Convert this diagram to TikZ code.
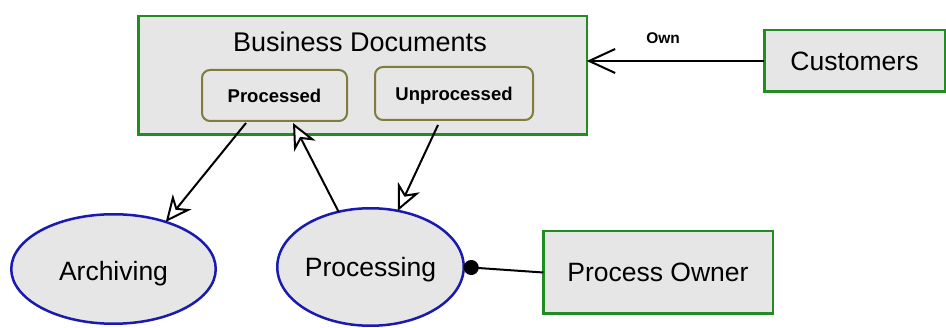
\documentclass[tikz,border=0pt]{standalone}
\usepackage{fontspec}
\setmainfont{Liberation Sans}
\usetikzlibrary{shapes.geometric,arrows.meta,calc}

\definecolor{boxfill}{RGB}{230,230,230}
\definecolor{boxgreen}{RGB}{34,140,34}
\definecolor{docolive}{RGB}{128,124,62}
\definecolor{ovalblue}{RGB}{26,26,176}

\tikzset{
  x=1pt, y=1pt,
  entity/.style={draw=boxgreen, fill=boxfill, line width=2.5pt, inner sep=0pt,
    outer sep=0pt, font=\fontsize{26.5}{30}\selectfont, text depth=0pt},
  docstate/.style={draw=docolive, fill=boxfill, line width=2pt, rounded corners=8pt,
    inner sep=0pt, outer sep=0pt, font=\bfseries\fontsize{18.5}{22}\selectfont, text depth=0pt},
  activity/.style={ellipse, draw=ovalblue, fill=boxfill, line width=2.5pt, inner sep=0pt,
    outer sep=0pt, font=\fontsize{26.5}{30}\selectfont, text depth=0pt},
  flow/.style={draw=black, line width=2pt,
    -{Stealth[open, fill=white, length=26pt, width=24pt, inset=8pt]}},
  owns/.style={draw=black, line width=2pt,
    -{Straight Barb[length=26pt, width=24pt]}},
  assigned/.style={draw=black, line width=2pt, {Circle[length=15pt]}-},
}

\begin{document}
\begin{tikzpicture}
\useasboundingbox (0,0) rectangle (946,-328);

% document store with its two states
\node[entity, minimum width=448.5pt, minimum height=118.5pt] (bd) at (362.5,-75.5) {};
\node[anchor=base, font=\fontsize{27}{30}\selectfont] (bdtitle) at (360,-52) {Business Documents};
\node[docstate, minimum width=145pt, minimum height=51pt] (processed) at (274.5,-95.5) {Processed};
\node[docstate, minimum width=158pt, minimum height=53pt] (unprocessed) at (454,-93.5) {Unprocessed};

% actors
\node[entity, minimum width=180.5pt, minimum height=61.5pt] (customers) at (854.5,-61) {Customers};
\node[entity, minimum width=229.5pt, minimum height=82.5pt] (owner) at (658,-272.5) {Process Owner};

% activities
\node[activity, minimum width=204.5pt, minimum height=109.5pt] (archiving) at (113.5,-269) {\raisebox{-4pt}{Archiving}};
\node[activity, minimum width=186.5pt, minimum height=117.5pt] (processing) at (370.5,-267) {Processing};

% connectors
\draw[owns] (customers.west) -- node[pos=0.57, anchor=base, yshift=17pt,
  font=\bfseries\fontsize{15.5}{18}\selectfont] (ownlabel) {Own} (customers.west -| bd.east);
\draw[flow] ($(processed.south)+(-28.5,-2)$) -- (archiving.42);
\draw[flow] (processing.120) -- ($(processed.south)+(18.5,-2)$);
\draw[flow] ($(unprocessed.south)+(-16,-5)$) -- (processing.64);
\draw[assigned] (processing.east) -- (owner.west);
\end{tikzpicture}
\end{document}
